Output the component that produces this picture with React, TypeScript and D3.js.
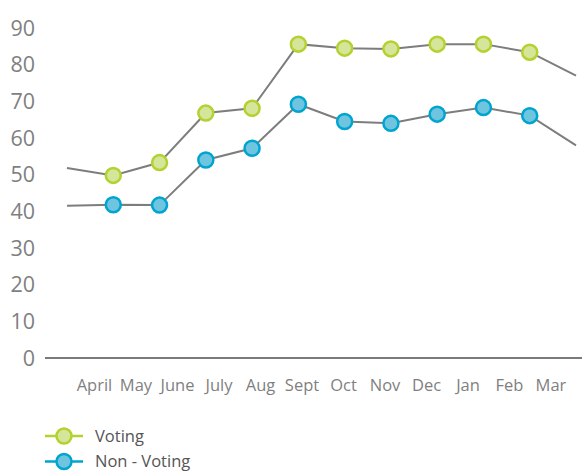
import React, { useEffect, useRef } from "react";
import * as d3 from "d3";

const months = ["April", "May", "June", "July", "Aug", "Sept", "Oct", "Nov", "Dec", "Jan", "Feb", "Mar"];
const voting = [51.8, 49.8, 53.3, 66.8, 68.1, 85.6, 84.5, 84.3, 85.6, 85.6, 83.4, 77];
const nonVoting = [41.5, 41.8, 41.7, 54, 57.2, 69.2, 64.5, 64.0, 66.5, 68.3, 66.1, 58];
const yTicks = [0, 10, 20, 30, 40, 50, 60, 70, 80, 90];

const series = [
    { name: "Voting", values: voting, fill: "#d5e59a", stroke: "#b3d12f" },
    { name: "Non - Voting", values: nonVoting, fill: "#6fc5df", stroke: "#00a5cf" }
];

const App = () => {
    const ref = useRef<SVGSVGElement>(null);

    useEffect(() => {
        const width = 582;
        const height = 471;
        const font = "'Open Sans', 'Noto Sans', sans-serif";

        const svg = d3.select(ref.current);
        svg.selectAll("*").remove();

        // ==========================
        // Scales
        // ==========================
        const x = d3.scalePoint<string>().domain(months).range([67, 576]);
        const xLabel = d3.scalePoint<string>().domain(months).range([94.5, 551]);
        const y = d3.scaleLinear().domain([0, 90]).range([358, 28]);

        // ==========================
        // Axis
        // ==========================
        svg.append("line")
            .attr("x1", 45)
            .attr("x2", width)
            .attr("y1", y(0))
            .attr("y2", y(0))
            .attr("stroke", "#7a7a7a")
            .attr("stroke-width", 2);

        svg.selectAll(".y-label")
            .data(yTicks)
            .enter()
            .append("text")
            .attr("x", 35)
            .attr("y", d => y(d))
            .attr("dy", "0.36em")
            .attr("text-anchor", "end")
            .attr("font-family", font)
            .attr("font-size", "21.5px")
            .attr("fill", "#7f7f7f")
            .text(d => d);

        svg.selectAll(".x-label")
            .data(months)
            .enter()
            .append("text")
            .attr("x", d => xLabel(d)!)
            .attr("y", 391)
            .attr("text-anchor", "middle")
            .attr("font-family", font)
            .attr("font-size", "16.5px")
            .attr("fill", "#7f7f7f")
            .text(d => d);

        // ==========================
        // Lines + markers
        // ==========================
        const line = d3.line<number>()
            .x((d, i) => x(months[i])!)
            .y(d => y(d));

        series.forEach(s => {
            svg.append("path")
                .attr("d", line(s.values))
                .attr("fill", "none")
                .attr("stroke", "#7d7d7d")
                .attr("stroke-width", 2);

            // first and last month have no marker
            svg.selectAll(null)
                .data(s.values.slice(1, -1))
                .enter()
                .append("circle")
                .attr("cx", (d, i) => x(months[i + 1])!)
                .attr("cy", d => y(d))
                .attr("r", 7.5)
                .attr("fill", s.fill)
                .attr("stroke", s.stroke)
                .attr("stroke-width", 2.5);
        });

        // ==========================
        // Legend
        // ==========================
        const legend = svg.append("g").attr("transform", "translate(45, 436)");

        series.forEach((s, i) => {
            const g = legend.append("g").attr("transform", `translate(0, ${i * 25.5})`);
            g.append("line")
                .attr("x1", 0)
                .attr("x2", 38)
                .attr("stroke", s.stroke)
                .attr("stroke-width", 2.5);
            g.append("circle")
                .attr("cx", 19)
                .attr("r", 7.5)
                .attr("fill", s.fill)
                .attr("stroke", s.stroke)
                .attr("stroke-width", 2.5);
            g.append("text")
                .attr("x", 50)
                .attr("dy", "0.36em")
                .attr("font-family", font)
                .attr("font-size", "16.5px")
                .attr("fill", "#555")
                .text(s.name);
        });
    }, []);

    return (
        <div style={{ position: "absolute", left: 0, top: 0 }}>
            <svg ref={ref} width={582} height={471} style={{ display: "block" }} />
        </div>
    );
};

export default App;
